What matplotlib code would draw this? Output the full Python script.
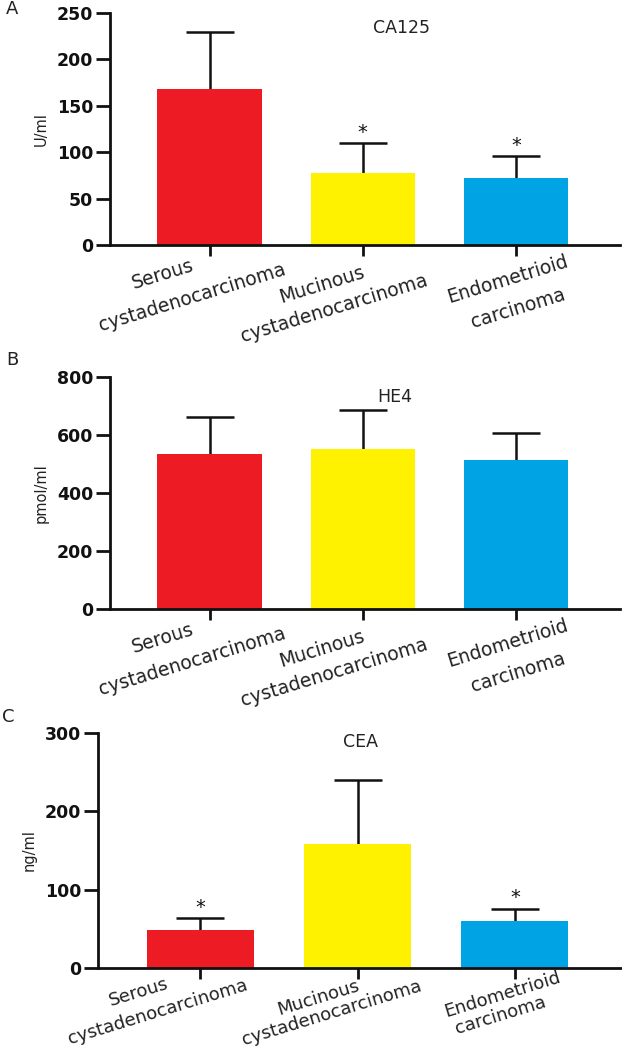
import matplotlib
matplotlib.use("Agg")
import matplotlib.pyplot as plt
import numpy as np

plt.rcParams['font.family'] = ['DejaVu Sans']

categories = ["Serous\ncystadenocarcinoma", "Mucinous\ncystadenocarcinoma", "Endometrioid\ncarcinoma"]
cat_line1 = ["Serous", "Mucinous", "Endometrioid"]
cat_line2 = ["cystadenocarcinoma", "cystadenocarcinoma", "carcinoma"]
colors = ["#ED1C24", "#FFF200", "#00A3E4"]

ca125_mean = [168, 78, 72]
ca125_sd = [62, 32, 24]
ca125_sig = [False, True, True]

he4_mean = [534, 551, 513]
he4_sd = [128, 134, 93]
he4_sig = [False, False, False]

cea_mean = [48, 158, 60]
cea_sd = [15.5, 82.5, 15.5]
cea_sig = [True, False, True]

W, H = 622, 1052
fig = plt.figure(figsize=(W / 100, H / 100), dpi=100)


def px_axes(left, top, right, bottom):
    return fig.add_axes([left / W, 1 - bottom / H, (right - left) / W, (bottom - top) / H])


AB_off1 = [(-47, -29), (-41, -40), (-8, -34)]
AB_off2 = [(-17, -52), (-28, -63), (2, -63)]
panels = [
    dict(letter="A", title="CA125", ylabel="U/ml", mean=ca125_mean, sd=ca125_sd, sig=ca125_sig,
         ymax=250, ystep=50, box=(110, 13, 620, 245), letter_xy=(12, 9), title_xy=(402, 28), rot=17,
         off1=AB_off1, off2=AB_off2),
    dict(letter="B", title="HE4", ylabel="pmol/ml", mean=he4_mean, sd=he4_sd, sig=he4_sig,
         ymax=800, ystep=200, box=(110, 377, 620, 609), letter_xy=(12, 360), title_xy=(395, 397), rot=17,
         off1=AB_off1, off2=AB_off2),
    dict(letter="C", title="CEA", ylabel="ng/ml", mean=cea_mean, sd=cea_sd, sig=cea_sig,
         ymax=300, ystep=100, box=(98, 733, 622, 968), letter_xy=(8, 717), title_xy=(360, 742), rot=17,
         off1=[(-62, -24), (-39, -30), (-12, -27)], off2=[(-42, -44), (-26, -45), (-14, -47)]),
]

x = np.arange(len(categories))
for p in panels:
    ax = px_axes(*p["box"])
    ax.bar(x, p["mean"], width=0.68, color=colors, zorder=2)
    eb = ax.errorbar(x, p["mean"], yerr=[np.zeros(3), p["sd"]], fmt="none", ecolor="#111111",
                     elinewidth=1.8, capsize=17, capthick=1.8, zorder=1)
    eb[1][0].set_visible(False)
    ax.set_xlim(-0.65, 2.68)
    ax.set_ylim(0, p["ymax"])
    ax.set_yticks(np.arange(0, p["ymax"] + 1, p["ystep"]))
    ax.set_xticks(x)
    ax.set_xticklabels([])
    for s in ["top", "right"]:
        ax.spines[s].set_visible(False)
    for s in ["left", "bottom"]:
        ax.spines[s].set_linewidth(2.0)
        ax.spines[s].set_color("#111111")
    ax.tick_params(axis="y", length=10, width=2.0, color="#111111", pad=2, labelsize=12.5)
    ax.tick_params(axis="x", length=8, width=2.0, color="#111111")
    for lab in ax.get_yticklabels():
        lab.set_fontweight("bold")
        lab.set_color("#111111")
    ax.set_ylabel(p["ylabel"], fontsize=10.5, color="#222222", labelpad=6)
    fs = 13.5 if p["letter"] != "C" else 13
    for i in range(3):
        if p["sig"][i]:
            ax.annotate("*", xy=(x[i], p["mean"][i] + p["sd"][i]), xytext=(0, 1),
                        textcoords="offset points", ha="center", va="bottom", fontsize=14,
                        color="#111111")
        for txt, off in ((cat_line1[i], p["off1"][i]), (cat_line2[i], p["off2"][i])):
            ax.annotate(txt, xy=(x[i], 0), xycoords=("data", "axes fraction"),
                        xytext=(off[0] * 0.72, off[1] * 0.72), textcoords="offset points",
                        ha="center", va="center", rotation=p["rot"], rotation_mode="anchor",
                        fontsize=fs, color="#222222")
    fig.text(p["letter_xy"][0] / W, 1 - p["letter_xy"][1] / H, p["letter"], fontsize=13,
             ha="center", va="center", color="#222222")
    fig.text(p["title_xy"][0] / W, 1 - p["title_xy"][1] / H, p["title"], fontsize=12.5,
             ha="center", va="center", color="#222222")

fig.savefig("out.png", dpi=100)
